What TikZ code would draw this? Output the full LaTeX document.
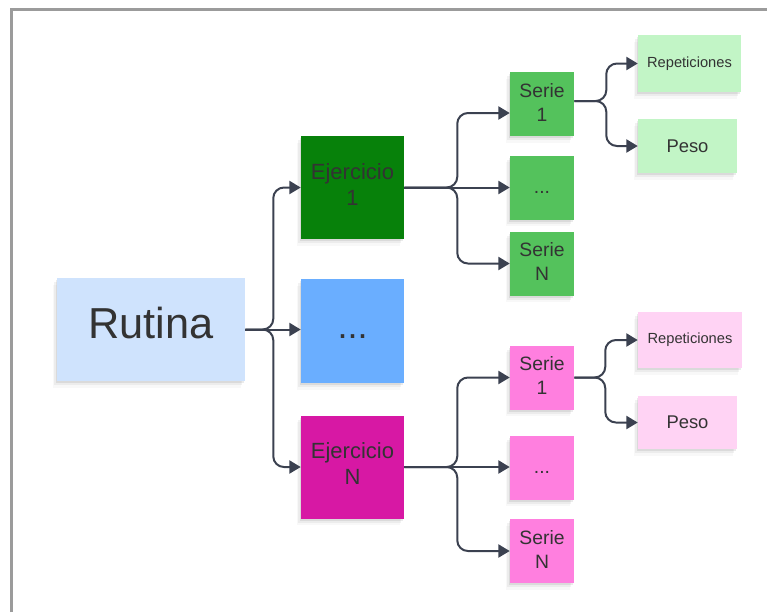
\documentclass[tikz,border=0pt]{standalone}
\usepackage{fontspec}
\setmainfont{Liberation Sans}
\usetikzlibrary{arrows.meta,shadows}
\definecolor{txt}{HTML}{333333}
\definecolor{connc}{HTML}{3B4150}
\definecolor{frame}{HTML}{9B9B9B}
\definecolor{rutc}{HTML}{CFE3FD}
\definecolor{bluec}{HTML}{6AAEFF}
\definecolor{ejgreen}{HTML}{07810A}
\definecolor{sgreen}{HTML}{54C25C}
\definecolor{lgreen}{HTML}{C2F5C6}
\definecolor{ejpink}{HTML}{D718A4}
\definecolor{spink}{HTML}{FF7FDF}
\definecolor{lpink}{HTML}{FFD3F4}
\tikzset{
  note/.style={rectangle, inner sep=0pt, align=center, text=txt,
    drop shadow={shadow xshift=-3pt, shadow yshift=-5pt, opacity=0.06},
    drop shadow={shadow xshift=-2pt, shadow yshift=-3.2pt, opacity=0.10},
    drop shadow={shadow xshift=-1pt, shadow yshift=-1.8pt, opacity=0.16}},
  big/.style={note, minimum width=77.25pt, minimum height=77.25pt,
    font=\fontsize{16.5}{19.5}\selectfont, text depth=5pt},
  small/.style={note, minimum width=48pt, minimum height=48pt,
    font=\fontsize{14.5}{18}\selectfont, text depth=3pt},
  leaf/.style={note, minimum width=76pt, minimum height=41.5pt},
  conn/.style={draw=connc, line width=1.5pt, rounded corners=8pt,
    -{Triangle[length=8.5pt,width=9.75pt]}},
}
\begin{document}
\begin{tikzpicture}[x=0.75pt,y=-0.75pt]
\useasboundingbox (0,0) rectangle (767,612);
\draw[frame, line width=2.25pt] (11.5,612) -- (11.5,9.5) -- (767,9.5);

% level 0
\node[note, fill=rutc, minimum width=141pt, minimum height=77.25pt,
  font=\fontsize{32.5}{36}\selectfont, text depth=10.5pt] (rut) at (151,329.5) {Rutina};

% level 1
\node[big, fill=ejgreen] (ej1) at (352.5,187.5) {Ejercicio\\1};
\node[big, fill=bluec, minimum height=78pt, font=\fontsize{27}{30}\selectfont,
  text height=11.5pt, text depth=0pt] (dots) at (352.5,331) {...};
\node[big, fill=ejpink] (ejn) at (352.5,467) {Ejercicio\\N};

% level 2 green
\node[small, fill=sgreen] (gs1) at (542,104) {Serie\\1};
\node[small, fill=sgreen, text height=9.5pt, text depth=0pt] (gd) at (542,187.5) {...};
\node[small, fill=sgreen] (gsn) at (542,263.5) {Serie\\N};

% level 2 pink
\node[small, fill=spink] (ps1) at (542,377.5) {Serie\\1};
\node[small, fill=spink, text height=9.5pt, text depth=0pt] (pd) at (542,467.5) {...};
\node[small, fill=spink] (psn) at (542,551) {Serie\\N};

% level 3 green
\node[leaf, fill=lgreen, minimum width=77.25pt, minimum height=42.75pt,
  font=\fontsize{11}{13}\selectfont] (grep) at (689.5,63.5) {Repeticiones};
\node[leaf, fill=lgreen, minimum width=74.25pt, minimum height=40.5pt,
  font=\fontsize{13.8}{16}\selectfont] (gpeso) at (687.5,146) {Peso};

% level 3 pink
\node[leaf, fill=lpink, minimum width=78pt, minimum height=42pt,
  font=\fontsize{11}{13}\selectfont] (prep) at (690,340) {Repeticiones};
\node[leaf, fill=lpink, minimum width=74.25pt, minimum height=39.75pt,
  font=\fontsize{13.8}{16}\selectfont] (ppeso) at (687.5,422.5) {Peso};

% connectors
\draw[conn] (rut.east) -- ++(28,0) |- (ej1.west);
\draw[conn] (rut.east) -- (rut.east -| dots.west);
\draw[conn] (rut.east) -- ++(28,0) |- (ejn.west);

\draw[conn] (ej1.east) -- ++(53,0) |- ([yshift=-6.75pt]gs1.west);
\draw[conn] (ej1.east) -- (ej1.east -| gd.west);
\draw[conn] (ej1.east) -- ++(53,0) |- (gsn.west);

\draw[conn] ([yshift=2.25pt]gs1.east) -- ++(32,0) |- (grep.west);
\draw[conn] ([yshift=2.25pt]gs1.east) -- ++(32,0) |- (gpeso.west);

\draw[conn] (ejn.east) -- ++(53,0) |- (ps1.west);
\draw[conn] (ejn.east) -- (ejn.east -| pd.west);
\draw[conn] (ejn.east) -- ++(53,0) |- (psn.west);

\draw[conn] (ps1.east) -- ++(31,0) |- (prep.west);
\draw[conn] (ps1.east) -- ++(31,0) |- (ppeso.west);
\end{tikzpicture}
\end{document}
